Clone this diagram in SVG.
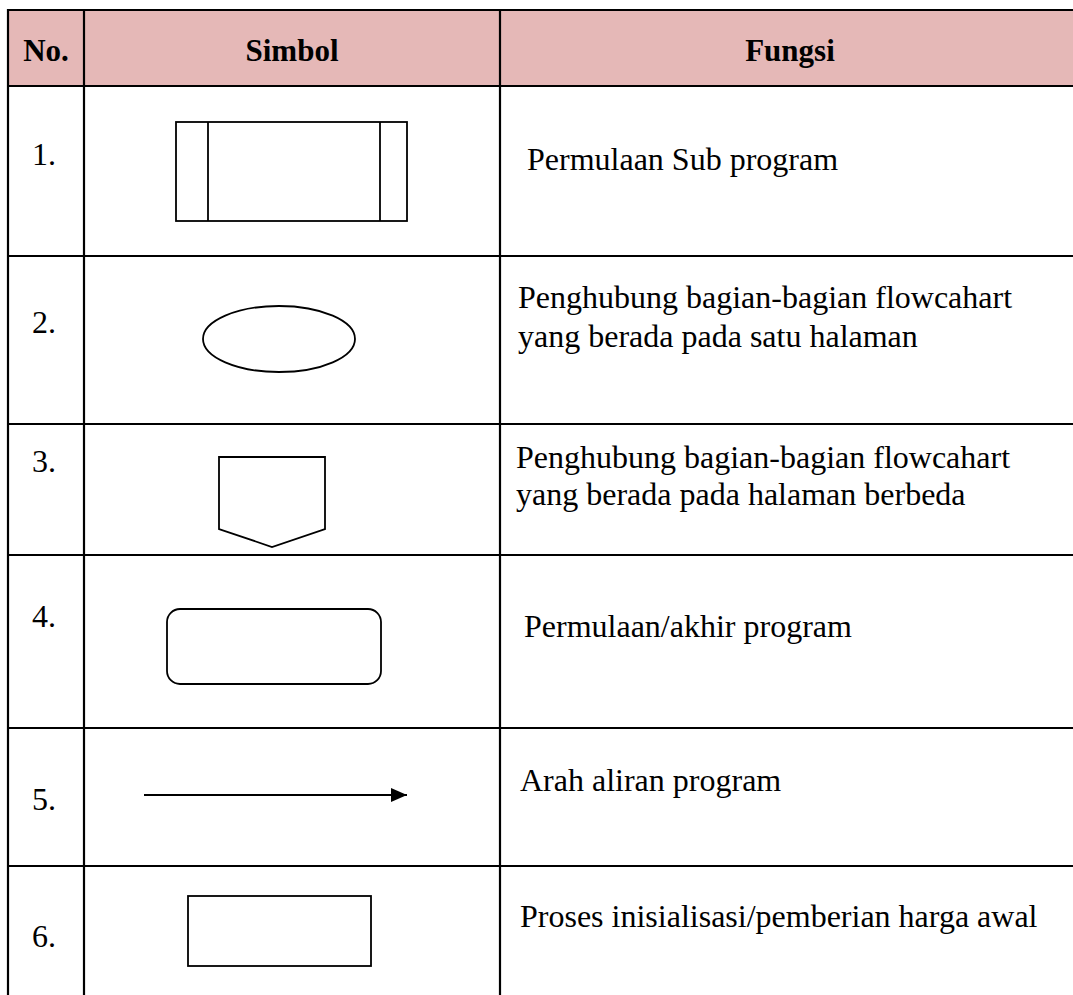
<svg xmlns="http://www.w3.org/2000/svg" width="1073" height="995" viewBox="0 0 1073 995">
<style>
.grid{stroke:#000;stroke-width:2.2;fill:none}
.hd{font-family:"Liberation Serif","Times New Roman",serif;font-weight:bold;font-size:31px;fill:#000}
.tx{font-family:"Liberation Serif","Times New Roman",serif;font-size:32px;fill:#000}
.sym{fill:#fff;stroke:#000;stroke-width:1.8}
</style>
<defs>
<marker id="ah" markerWidth="16" markerHeight="16" refX="16" refY="8" orient="auto" markerUnits="userSpaceOnUse">
<path d="M0,1 L16,8 L0,15 Z" fill="#000"/>
</marker>
</defs>
<rect x="0" y="0" width="1073" height="995" fill="#fff"/>
<g id="table">
<rect x="8" y="10" width="1070" height="76" fill="#E5B8B7"/>
<line class="grid" x1="8" y1="10" x2="1073" y2="10"/>
<line class="grid" x1="8" y1="86" x2="1073" y2="86"/>
<line class="grid" x1="8" y1="256" x2="1073" y2="256"/>
<line class="grid" x1="8" y1="424" x2="1073" y2="424"/>
<line class="grid" x1="8" y1="555" x2="1073" y2="555"/>
<line class="grid" x1="8" y1="728" x2="1073" y2="728"/>
<line class="grid" x1="8" y1="866" x2="1073" y2="866"/>
<line class="grid" x1="8" y1="9" x2="8" y2="995"/>
<line class="grid" x1="84" y1="9" x2="84" y2="995"/>
<line class="grid" x1="500" y1="9" x2="500" y2="995"/>
</g>
<g id="header">
<text class="hd" x="46" y="61" text-anchor="middle">No.</text>
<text class="hd" x="292" y="61" text-anchor="middle">Simbol</text>
<text class="hd" x="790" y="61" text-anchor="middle">Fungsi</text>
</g>
<g id="row1">
<text class="tx" x="32" y="165">1.</text>
<rect class="sym" x="176" y="122" width="231" height="99" stroke-width="2"/>
<line class="sym" x1="208" y1="122" x2="208" y2="221" stroke-width="2"/>
<line class="sym" x1="380" y1="122" x2="380" y2="221" stroke-width="2"/>
<text class="tx" x="527" y="170">Permulaan Sub program</text>
</g>
<g id="row2">
<text class="tx" x="32" y="333">2.</text>
<ellipse class="sym" cx="279" cy="339" rx="76" ry="33"/>
<text class="tx" x="518" y="308">Penghubung bagian-bagian flowcahart</text>
<text class="tx" x="518" y="347">yang berada pada satu halaman</text>
</g>
<g id="row3">
<text class="tx" x="32" y="472">3.</text>
<polygon class="sym" points="219,457 325,457 325,529 272,547 219,529"/>
<text class="tx" x="516" y="468">Penghubung bagian-bagian flowcahart</text>
<text class="tx" x="516" y="505">yang berada pada halaman berbeda</text>
</g>
<g id="row4">
<text class="tx" x="32" y="627">4.</text>
<rect class="sym" x="167" y="609" width="214" height="75" rx="13" ry="13"/>
<text class="tx" x="524" y="637">Permulaan/akhir program</text>
</g>
<g id="connectors">
<line x1="144" y1="795" x2="407" y2="795" stroke="#000" stroke-width="2" marker-end="url(#ah)"/>
</g>
<g id="row5">
<text class="tx" x="32" y="810">5.</text>
<text class="tx" x="520" y="791">Arah aliran program</text>
</g>
<g id="row6">
<text class="tx" x="32" y="947">6.</text>
<rect class="sym" x="188" y="896" width="183" height="70"/>
<text class="tx" x="520" y="927">Proses inisialisasi/pemberian harga awal</text>
</g>
</svg>
